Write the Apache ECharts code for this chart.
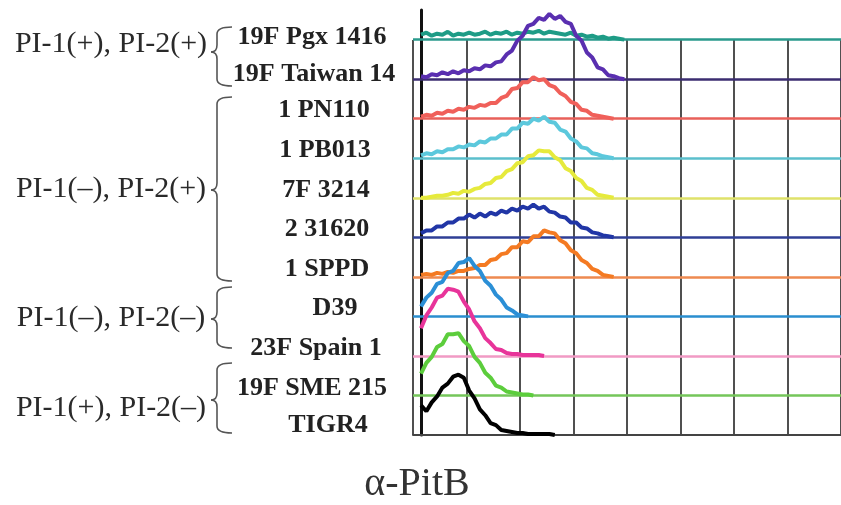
<!DOCTYPE html>
<html><head><meta charset="utf-8">
<script src="https://cdn.jsdelivr.net/npm/echarts@6/dist/echarts.min.js"></script>
<style>html,body{margin:0;padding:0;background:#fff}#c{width:841px;height:505px}</style>
</head><body><div id="c"></div>
<script>
// ---- data ----
const strains = ['19F Pgx 1416','19F Taiwan 14','1 PN110','1 PB013','7F 3214','2 31620','1 SPPD','D39','23F Spain 1','19F SME 215','TIGR4'];
const groups = ['PI-1(+), PI-2(+)','PI-1(–), PI-2(+)','PI-1(–), PI-2(–)','PI-1(+), PI-2(–)'];
const axisTitle = 'α-PitB';
// fluorescence (decades) sampled along the x axis
const xs = [0.15,0.25,0.35,0.45,0.55,0.65,0.75,0.85,0.95,1.05,1.15,1.25,1.35,1.45,1.55,1.65,1.75,1.85,1.95,2.05,2.15,2.25,2.35,2.45,2.55,2.65,2.75,2.85,2.95,3.05,3.15,3.25,3.35,3.45,3.55,3.65,3.75,3.85,3.95,4.05];
// counts for each strain (one row spacing = 40)
const pgx1416  = [5,7,4,6,5,8,4,6,5,7,5,6,8,5,7,6,8,5,7,6,8,7,9,6,8,7,6,5,7,4,5,3,4,2,3,1,2,1,0,0];
const taiwan14 = [3,2,5,4,7,5,8,6,9,8,11,10,14,13,17,18,25,29,39,44,54,56,62,60,66,61,64,58,56,44,39,27,22,12,10,4,3,1,0,0];
const pn110    = [2,4,3,6,5,8,7,10,9,12,11,14,13,16,16,21,23,30,31,37,37,42,39,40,34,32,26,23,17,15,9,8,4,3,2,1,0,0,0,0];
const pb013    = [3,5,4,7,6,9,9,12,11,14,13,17,16,20,20,24,24,30,30,36,35,40,38,42,37,36,29,27,20,17,11,10,5,4,2,1,0,0,0,0];
const f3214    = [0,0,1,2,2,3,5,4,7,6,9,10,14,15,20,21,27,29,35,36,42,43,48,47,47,41,38,30,27,20,17,10,8,3,2,1,0,0,0,0];
const s31620   = [4,7,7,11,11,15,15,19,19,23,20,24,21,25,23,27,25,29,27,31,29,33,29,31,26,25,21,20,15,15,10,9,5,4,2,1,0,0,0,0];
const sppd     = [2,3,2,4,3,5,4,6,6,8,9,12,12,17,18,23,24,30,30,36,35,41,41,47,45,44,37,34,27,24,17,14,8,6,2,1,0,0,0,0];
const d39      = [10,19,24,33,35,44,46,54,55,59,51,46,36,31,22,17,9,6,2,1,0,0,0,0,0,0,0,0,0,0,0,0,0,0,0,0,0,0,0,0];
const spain1   = [28,41,49,59,61,68,67,65,55,47,35,28,18,13,7,6,3,2,2,1,1,1,1,0,0,0,0,0,0,0,0,0,0,0,0,0,0,0,0,0];
const sme215   = [22,33,39,49,52,62,62,63,55,50,39,33,23,18,10,8,4,3,2,1,1,0,0,0,0,0,0,0,0,0,0,0,0,0,0,0,0,0,0,0];
const tigr4    = [30,24,33,39,48,52,59,61,58,45,37,26,20,12,10,5,4,3,2,2,1,1,1,1,1,0];
const counts = [pgx1416,taiwan14,pn110,pb013,f3214,s31620,sppd,d39,spain1,sme215,tigr4];

const lineColors = ['#1e9c86','#5a2fb0','#f0605a','#5cc8dc','#e6ea3c','#2136a6','#f47a22','#2b8fd6','#e8349a','#5ccd3c','#000000'];
const baseColors = ['#2a9a8c','#3b2d70','#e8605a','#5bbfcc','#dfe26a','#2f3f96','#ee8a50','#2a8ecf','#f19ac4','#74c65a','#000000'];
const ROW = 40;

const series = counts.map((h, s) => {
  const off = (counts.length - 1 - s) * ROW;
  let last = h.length - 1;
  while (last > 0 && h[last] === 0 && h[last - 1] === 0) last--;
  const data = [];
  for (let k = 0; k <= last; k++) data.push([xs[k], off + h[k]]);
  const o = {
    type: 'line', xAxisIndex: 1, yAxisIndex: 1, data,
    symbol: 'none', showSymbol: false, animation: false, silent: true,
    lineStyle: { color: lineColors[s], width: 4 }, z: 3 + s
  };
  if (s < counts.length - 1) {
    o.markLine = {
      silent: true, symbol: ['none', 'none'], label: { show: false }, animation: false, z: 1,
      lineStyle: { color: baseColors[s], width: 2.5, type: 'solid' },
      data: [{ yAxis: off }]
    };
  }
  return o;
});

// ---- text & braces ----
const strainX = [312,314,324,325,326,327,327,335,316,312,328];
const strainY = [37,74,110,150,190,229,269,308,348,388,425];
const groupY = [44,189,318,408];
const braces = [[27,52,86],[97,190,281],[287,319,348],[363,400,433]];
const graphic = [];
strains.forEach((t, i) => graphic.push({
  type: 'text', x: strainX[i], y: strainY[i], silent: true,
  style: { text: t, font: 'bold 26px "Liberation Serif", serif', fill: '#222',
    textAlign: 'center', textVerticalAlign: 'middle', align: 'center', verticalAlign: 'middle' }
}));
groups.forEach((t, i) => graphic.push({
  type: 'text', x: 111, y: groupY[i], silent: true,
  style: { text: t, font: '30px "Liberation Serif", serif', fill: '#2a2a2a',
    textAlign: 'center', textVerticalAlign: 'middle', align: 'center', verticalAlign: 'middle' }
}));
const braceStyle = { fill: 'none', stroke: '#555', lineWidth: 1.6 };
braces.forEach(([a, m, b]) => {
  const x0 = 217, x1 = 232, xc = 211, r = 7;
  graphic.push(
    { type: 'bezierCurve', silent: true, shape: { x1: x1, y1: a, cpx1: x0, cpy1: a, x2: x0, y2: a + r }, style: braceStyle },
    { type: 'line', silent: true, shape: { x1: x0, y1: a + r, x2: x0, y2: m - r }, style: braceStyle },
    { type: 'bezierCurve', silent: true, shape: { x1: x0, y1: m - r, cpx1: x0, cpy1: m, x2: xc, y2: m }, style: braceStyle },
    { type: 'bezierCurve', silent: true, shape: { x1: xc, y1: m, cpx1: x0, cpy1: m, x2: x0, y2: m + r }, style: braceStyle },
    { type: 'line', silent: true, shape: { x1: x0, y1: m + r, x2: x0, y2: b - r }, style: braceStyle },
    { type: 'bezierCurve', silent: true, shape: { x1: x0, y1: b - r, cpx1: x0, cpy1: b, x2: x1, y2: b }, style: braceStyle }
  );
});
graphic.push({
  type: 'text', x: 417, y: 484, silent: true,
  style: { text: axisTitle, font: '40px "Liberation Serif", serif', fill: '#333',
    textAlign: 'center', textVerticalAlign: 'middle', align: 'center', verticalAlign: 'middle' }
});

const chart = echarts.init(document.getElementById('c'), null, { renderer: 'canvas' });
chart.setOption({
  backgroundColor: '#fff',
  animation: false,
  grid: [
    { left: 413, right: -6, top: 40, bottom: 70 },
    { left: 413, right: -6, top: 10, bottom: 70 }
  ],
  xAxis: [
    { gridIndex: 0, type: 'value', min: 0, max: 8, interval: 1,
      axisLine: { show: true, onZero: false, lineStyle: { color: '#444', width: 2 } },
      axisTick: { show: false }, axisLabel: { show: false },
      splitLine: { show: true, lineStyle: { color: '#505050', width: 2 } } },
    { gridIndex: 1, type: 'value', min: 0, max: 8, show: false }
  ],
  yAxis: [
    { gridIndex: 0, type: 'value', min: 0, max: 1, show: false },
    { gridIndex: 1, type: 'value', min: 0, max: 430, offset: -8,
      axisLine: { show: true, onZero: false, lineStyle: { color: '#111', width: 3 } },
      axisTick: { show: false }, axisLabel: { show: false }, splitLine: { show: false } }
  ],
  series,
  graphic
});
</script></body></html>
